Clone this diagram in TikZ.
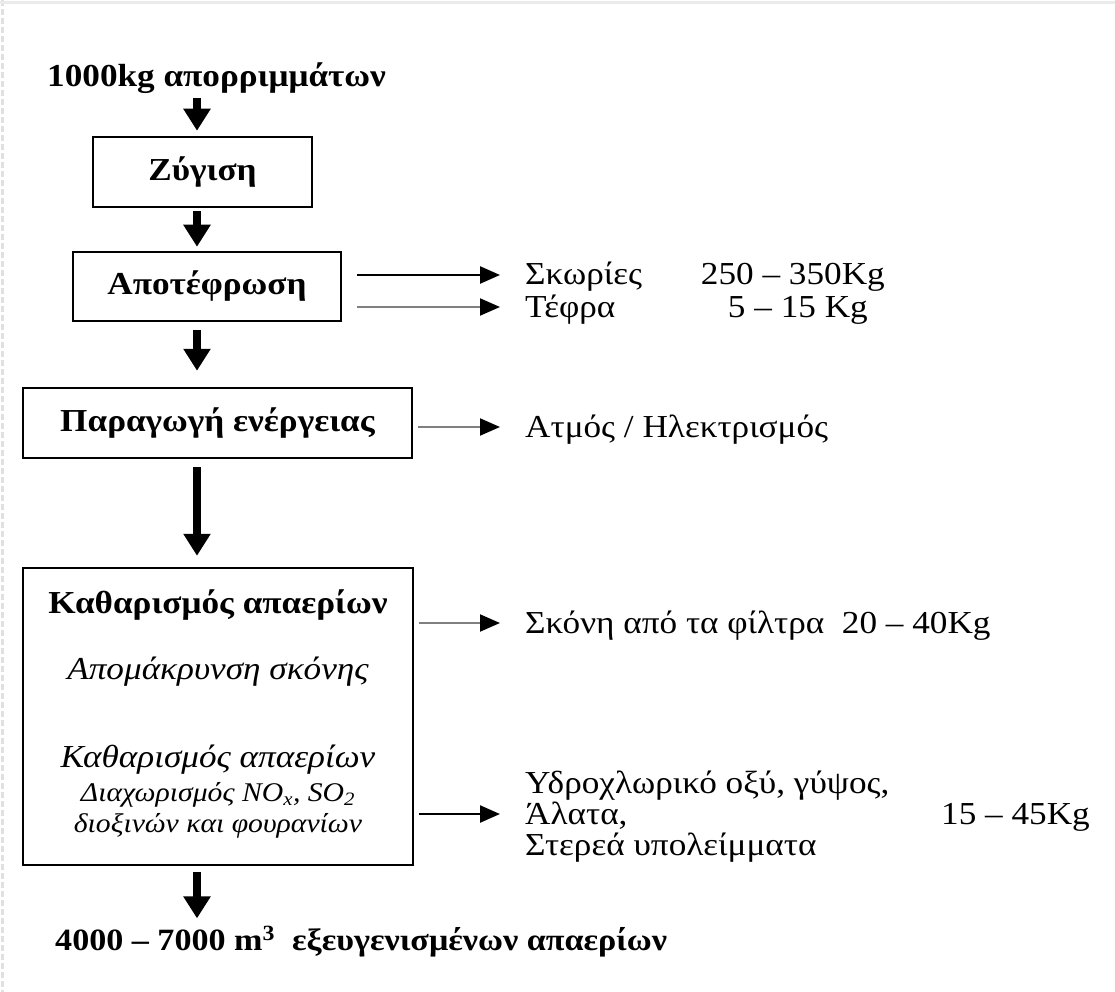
\documentclass[tikz,border=0pt]{standalone}
\usepackage{fontspec}
\setmainfont[FakeStretch=1.1]{Liberation Serif}
\usetikzlibrary{arrows.meta}
\begin{document}
\begin{tikzpicture}[x=1pt,y=-1pt,
  every node/.style={inner sep=0pt, font=\fontsize{32}{36}\selectfont},
  boldtxt/.style={font=\fontsize{32}{36}\selectfont\bfseries},
  ittxt/.style={font=\fontsize{32}{36}\selectfont\itshape},
  smalltxt/.style={font=\fontsize{27}{31}\selectfont\itshape},
  procbox/.style={draw, line width=2.5pt, inner sep=0pt},
  bigarrow/.style={line width=8pt, -{Triangle[length=22pt,width=26pt]}},
  sidearrow/.style={line width=2.4pt, -{Triangle[length=20pt,width=17pt]}},
  grayarrow/.style={line width=2pt, draw=black!50, -{Triangle[length=20pt,width=17pt,color=black]}},
]
\useasboundingbox (0,0) rectangle (1115,992);
\draw[black!12, line width=3pt, dash pattern=on 6pt off 3pt] (2,0) -- (2,992);
\draw[black!8, line width=3pt] (0,3) -- (1115,3);

\coordinate (ax) at (197,0);

% main column
\node[boldtxt, anchor=base west] (title) at (47,87) {1000kg απορριμμάτων};
\node[procbox, boldtxt, minimum width=219pt, minimum height=70pt] (b1) at (202.5,172) {Ζύγιση};
\node[procbox, boldtxt, minimum width=268pt, minimum height=69pt] (b2) at (207,286.5) {Αποτέφρωση};
\node[procbox, boldtxt, minimum width=389pt, minimum height=70pt] (b3) at (217.5,423) {Παραγωγή ενέργειας};
\node[procbox, minimum width=390pt, minimum height=297pt] (b4) at (218,716.5) {};
\node[boldtxt] (t41) at (218,605) {Καθαρισμός απαερίων};
\node[ittxt] (t42) at (218,672) {Απομάκρυνση σκόνης};
\node[ittxt] (t43) at (218,760) {Καθαρισμός απαερίων};
\node[smalltxt] (t44) at (218,795) {Διαχωρισμός NO\textsubscript{x}, SO\textsubscript{2}};
\node[smalltxt] (t45) at (218,826) {διοξινών και φουρανίων};
\node[boldtxt, font=\fontsize{31}{35}\selectfont\bfseries, anchor=base west] (out) at (55,950) {4000 – 7000 m\textsuperscript{3}\ \ εξευγενισμένων απαερίων};

\draw[bigarrow, shorten <=4pt, shorten >=5pt] (ax |- title.south) -- (ax |- b1.north);
\draw[bigarrow, shorten <=3pt, shorten >=4pt] (ax |- b1.south) -- (ax |- b2.north);
\draw[bigarrow, shorten <=8pt, shorten >=16pt] (ax |- b2.south) -- (ax |- b3.north);
\draw[bigarrow, shorten <=8pt, shorten >=11pt] (ax |- b3.south) -- (ax |- b4.north);
\draw[bigarrow, shorten <=6pt, shorten >=8pt] (ax |- b4.south) -- (ax |- out.north);

% side outputs
\node[anchor=base west] (s1) at (525,284) {Σκωρίες};
\node[anchor=base east] (s1v) at (885,284) {250 – 350Kg};
\node[anchor=base west] (s2) at (525,317) {Τέφρα};
\node[anchor=base east] (s2v) at (868,317) {5 – 15 Kg};
\node[anchor=base west] (s3) at (525,437) {Ατμός / Ηλεκτρισμός};
\node[anchor=base west] (s4) at (525,633) {Σκόνη από τα φίλτρα\ \ 20 – 40Kg};
\node[anchor=base west] (s5a) at (525,793) {Υδροχλωρικό οξύ, γύψος,};
\node[anchor=base west] (s5) at (525,824) {Άλατα,};
\node[anchor=base west] (s5c) at (525,855) {Στερεά υπολείμματα};
\node[anchor=base east] (s5v) at (1090,824) {15 – 45Kg};

\draw[sidearrow, shorten >=25pt] ([xshift=15pt]b2.east |- 0,275) -- (s1.west |- 0,275);
\draw[grayarrow, shorten >=25pt] ([xshift=15pt]b2.east |- 0,307) -- (s2.west |- 0,307);
\draw[grayarrow, shorten >=25pt] ([xshift=5pt]b3.east |- 0,427) -- (s3.west |- 0,427);
\draw[grayarrow, shorten >=25pt] ([xshift=5pt]b4.east |- 0,623) -- (s4.west |- 0,623);
\draw[sidearrow, shorten >=25pt] ([xshift=5pt]b4.east |- 0,814) -- (s5.west |- 0,814);
\end{tikzpicture}
\end{document}
